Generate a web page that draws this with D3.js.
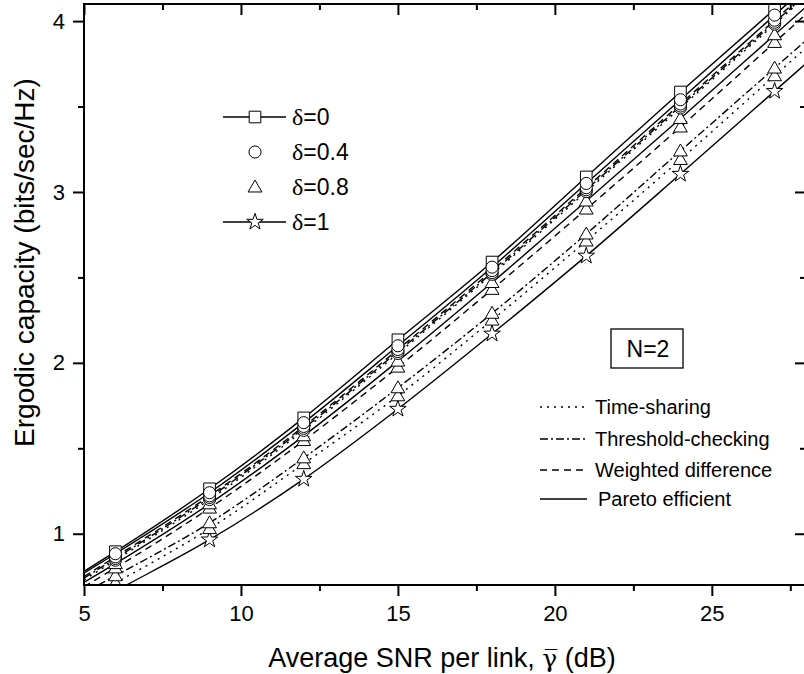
<!DOCTYPE html>
<html>
<head>
<meta charset="utf-8">
<script src="https://cdn.jsdelivr.net/npm/d3@7"></script>
<style>
  html, body { margin: 0; padding: 0; background: #fff; }
  svg { display: block; font-family: "Liberation Sans", Arial, sans-serif; }
</style>
</head>
<body>
<svg id="chart" width="804" height="674"></svg>
<script>
// ---------- data ----------
const snr = [5, 6, 9, 12, 15, 18, 21, 24, 27, 28];        // x values of curves (dB)
const markerSnr = [6, 9, 12, 15, 18, 21, 24, 27];         // where markers are drawn

// delta = 0 (all schemes coincide)
const d0_pareto   = [0.78, 0.895, 1.263, 1.678, 2.135, 2.59, 3.088, 3.585, 4.07, 4.23];
// delta = 0.4
const d04_pareto  = [0.77, 0.883, 1.24, 1.65, 2.10, 2.56, 3.05, 3.54, 4.035, 4.20];
const d04_weight  = [0.75, 0.865, 1.222, 1.628, 2.078, 2.54, 3.025, 3.515, 4.005, 4.17];
const d04_thresh  = [0.74, 0.855, 1.212, 1.617, 2.066, 2.528, 3.013, 3.503, 3.993, 4.155];
const d04_time    = [0.73, 0.845, 1.20, 1.605, 2.055, 2.518, 3.002, 3.492, 3.982, 4.145];
// delta = 0.8
const d08_pareto  = [0.715, 0.825, 1.175, 1.573, 2.01, 2.47, 2.947, 3.43, 3.92, 4.083];
const d08_weight  = [0.69, 0.80, 1.15, 1.545, 1.975, 2.43, 2.90, 3.38, 3.875, 4.04];
const d08_thresh  = [0.655, 0.754, 1.064, 1.444, 1.854, 2.29, 2.754, 3.24, 3.725, 3.887];
const d08_time    = [0.615, 0.713, 1.03, 1.41, 1.807, 2.25, 2.713, 3.19, 3.68, 3.843];
// delta = 1 (all schemes coincide)
const d1_pareto   = [0.565, 0.665, 0.965, 1.32, 1.73, 2.17, 2.626, 3.105, 3.59, 3.752];

const xTicks = [5, 10, 15, 20, 25];
const xMinor = [7.5, 12.5, 17.5, 22.5, 27.5];
const yTicks = [1, 2, 3, 4];
const yMinor = [1.5, 2.5, 3.5];

const deltaLabels = ["0", "0.4", "0.8", "1"];
const schemeLabels = ["Time-sharing", "Threshold-checking", "Weighted difference", "Pareto efficient"];
const boxLabel = "N=2";
const xTitle = "Average SNR per link, ";
const yTitle = "Ergodic capacity (bits/sec/Hz)";

// ---------- layout ----------
const L = 84, R = 806, T = 4, B = 585;
const svg = d3.select("#chart");
const x = d3.scaleLinear().domain([5, 28]).range([L, R]);
const y = d3.scaleLinear().domain([0.7, 4.1]).range([B, T]);

const dashes = { pareto: null, weight: "7,5", thresh: "8,3,2,3", time: "2,5" };

const series = [
  { v: d1_pareto,  style: "pareto", marker: "star" },
  { v: d08_time,   style: "time",   marker: "tri" },
  { v: d08_thresh, style: "thresh", marker: "tri" },
  { v: d08_weight, style: "weight", marker: "tri" },
  { v: d08_pareto, style: "pareto", marker: "tri" },
  { v: d0_pareto,  style: "pareto", marker: "square" },
  { v: d04_time,   style: "time",   marker: "circle" },
  { v: d04_thresh, style: "thresh", marker: "circle" },
  { v: d04_weight, style: "weight", marker: "circle" },
  { v: d04_pareto, style: "pareto", marker: "circle" },
];

svg.append("defs").append("clipPath").attr("id", "clip")
  .append("rect").attr("x", L).attr("y", T).attr("width", R - L).attr("height", B - T);

const plot = svg.append("g").attr("clip-path", "url(#clip)");
const line = d3.line().x(d => x(d[0])).y(d => y(d[1])).curve(d3.curveMonotoneX);

series.forEach(s => {
  plot.append("path")
    .datum(snr.map((t, i) => [t, s.v[i]]))
    .attr("d", line)
    .attr("fill", "none")
    .attr("stroke", "#000")
    .attr("stroke-width", 1.4)
    .attr("stroke-dasharray", dashes[s.style]);
});

const sym = {
  square: d3.symbol().type(d3.symbolSquare).size(135),
  circle: d3.symbol().type(d3.symbolCircle).size(115),
  tri: d3.symbol().type(d3.symbolTriangle).size(82),
  star: d3.symbol().type(d3.symbolStar).size(85),
};

function drawMarker(g, type, cx, cy) {
  g.append("path")
    .attr("d", sym[type]())
    .attr("transform", `translate(${cx},${cy})` + (type === "tri" ? " translate(0,1)" : ""))
    .attr("fill", "#fff")
    .attr("stroke", "#000")
    .attr("stroke-width", 1);
}

series.forEach(s => {
  markerSnr.forEach(t => {
    const i = snr.indexOf(t);
    drawMarker(plot, s.marker, x(t), y(s.v[i]));
  });
});

// ---------- axes ----------
const ax = svg.append("g").attr("stroke", "#000");
ax.append("rect").attr("x", L).attr("y", T).attr("width", R - L).attr("height", B - T)
  .attr("fill", "none").attr("stroke-width", 2);

const gx = svg.append("g").attr("transform", `translate(0,${B})`)
  .call(d3.axisBottom(x).tickValues(xTicks).tickSize(11).tickPadding(9).tickFormat(d3.format("d")));
const gxm = svg.append("g").attr("transform", `translate(0,${B})`)
  .call(d3.axisBottom(x).tickValues(xMinor).tickSize(6).tickFormat(""));
const gxt = svg.append("g").attr("transform", `translate(0,${T})`)
  .call(d3.axisBottom(x).tickValues(xTicks).tickSize(11).tickFormat(""));
const gxtm = svg.append("g").attr("transform", `translate(0,${T})`)
  .call(d3.axisBottom(x).tickValues(xMinor).tickSize(6).tickFormat(""));

const gy = svg.append("g").attr("transform", `translate(${L},0)`)
  .call(d3.axisLeft(y).tickValues(yTicks).tickSize(11).tickPadding(8).tickFormat(d3.format("d")));
const gym = svg.append("g").attr("transform", `translate(${L},0)`)
  .call(d3.axisLeft(y).tickValues(yMinor).tickSize(6).tickFormat(""));
const gyr = svg.append("g").attr("transform", `translate(${R},0)`)
  .call(d3.axisLeft(y).tickValues(yTicks).tickSize(11).tickFormat(""));
const gyrm = svg.append("g").attr("transform", `translate(${R},0)`)
  .call(d3.axisLeft(y).tickValues(yMinor).tickSize(6).tickFormat(""));

[gx, gxm, gxt, gxtm, gy, gym, gyr, gyrm].forEach(g => {
  g.select(".domain").remove();
  g.selectAll(".tick line").attr("stroke", "#000").attr("stroke-width", 2);
  g.selectAll(".tick text").attr("fill", "#000")
    .style("font-family", '"Liberation Sans", Arial, sans-serif').style("font-size", "22px");
});

// axis titles
const xt = svg.append("text").attr("x", (L + R) / 2 - 3).attr("y", 667)
  .attr("text-anchor", "middle").style("font-size", "27px").attr("fill", "#000");
xt.append("tspan").text(xTitle);
xt.append("tspan").style("font-family", '"DejaVu Serif", serif').style("font-size", "25px").text("\u03B3\u0305");
xt.append("tspan").text(" (dB)");

svg.append("text")
  .attr("transform", `translate(34,${(T + B) / 2 - 32}) rotate(-90)`)
  .attr("text-anchor", "middle").style("font-size", "28px").attr("fill", "#000")
  .text(yTitle);

// ---------- delta legend ----------
const leg = svg.append("g");
const legRows = [117, 152, 187, 222];
const legMarkers = ["square", "circle", "tri", "star"];
const legLine = [true, false, false, true];
legRows.forEach((ry, i) => {
  if (legLine[i]) {
    leg.append("line").attr("x1", 223).attr("x2", 286).attr("y1", ry).attr("y2", ry)
      .attr("stroke", "#000").attr("stroke-width", 1.4);
  }
  drawMarker(leg, legMarkers[i], 255, ry);
  const t = leg.append("text").attr("x", 292).attr("y", ry + 8)
    .style("font-size", "23px").attr("fill", "#000");
  t.append("tspan").style("font-family", '"Liberation Serif", serif').style("font-size", "24px").text("\u03B4");
  t.append("tspan").text("=" + deltaLabels[i]);
});

// ---------- N=2 box ----------
svg.append("rect").attr("x", 611).attr("y", 329).attr("width", 72).attr("height", 39)
  .attr("fill", "#fff").attr("stroke", "#000").attr("stroke-width", 1.3);
svg.append("text").attr("x", 648).attr("y", 357).attr("text-anchor", "middle")
  .style("font-size", "23px").attr("fill", "#000").text(boxLabel);

// ---------- scheme legend ----------
const sRows = [407, 439, 470, 499];
const sStyles = ["time", "thresh", "weight", "pareto"];
sRows.forEach((ry, i) => {
  svg.append("line").attr("x1", 540).attr("x2", 587).attr("y1", ry).attr("y2", ry)
    .attr("stroke", "#000").attr("stroke-width", 1.4)
    .attr("stroke-dasharray", dashes[sStyles[i]]);
  svg.append("text").attr("x", i === 3 ? 598 : 595).attr("y", ry + 7)
    .style("font-size", "20px").attr("fill", "#000").text(schemeLabels[i]);
});
</script>
</body>
</html>
